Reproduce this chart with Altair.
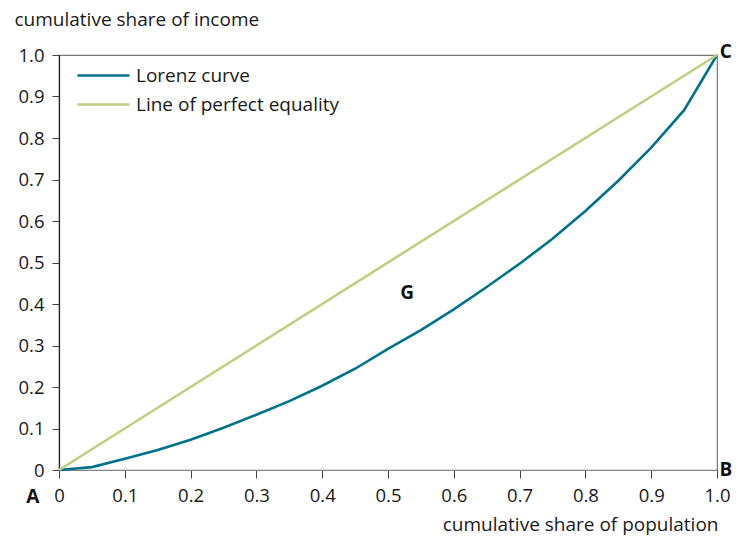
import altair as alt
import pandas as pd

# ---- data ----
pop_share = [0.0, 0.05, 0.10, 0.15, 0.20, 0.25, 0.30, 0.35, 0.40, 0.45, 0.50,
             0.55, 0.60, 0.65, 0.70, 0.75, 0.80, 0.85, 0.90, 0.95, 1.0]
income_share = [0.0, 0.007, 0.027, 0.048, 0.073, 0.102, 0.133, 0.166, 0.203, 0.244, 0.292,
                0.337, 0.387, 0.441, 0.497, 0.557, 0.624, 0.697, 0.777, 0.867, 1.0]
equality_x = [0.0, 1.0]
equality_y = [0.0, 1.0]
series_names = ["Lorenz curve", "Line of perfect equality"]
series_colors = ["#00728A", "#BDD180"]
tick_values = [0.0, 0.1, 0.2, 0.3, 0.4, 0.5, 0.6, 0.7, 0.8, 0.9, 1.0]

annot_text = ["A", "B", "C", "G"]
annot_x = [-0.04, 1.0135, 1.0135, 0.529]
annot_y = [-0.065, 0.0, 1.007, 0.427]

FONT = "Open Sans"
TXT = "#1a1a1a"

rows = []
for i, (x, y) in enumerate(zip(pop_share, income_share)):
    rows.append({"x": x, "y": y, "series": series_names[0], "order": i})
for i, (x, y) in enumerate(zip(equality_x, equality_y)):
    rows.append({"x": x, "y": y, "series": series_names[1], "order": i})
df = pd.DataFrame(rows)
annot = pd.DataFrame({"x": annot_x, "y": annot_y, "t": annot_text})

label_expr = "datum.value == 0 ? '0' : format(datum.value, '.1f')"

x_enc = alt.X("x:Q", scale=alt.Scale(domain=[0, 1], nice=False, zero=False),
              axis=alt.Axis(values=tick_values, labelExpr=label_expr, grid=False,
                            title="cumulative share of population",
                            titleX=659, titleY=54, titleAlign="right",
                            titleBaseline="middle", titleAnchor="end",
                            titleFontWeight="normal", titleFontSize=19, titleFont=FONT,
                            titleColor=TXT,
                            labelFont=FONT, labelFontSize=18.5, labelColor=TXT,
                            labelPadding=8, tickSize=8, tickColor="#444",
                            domainColor="#888", domainWidth=1.2, labelFlush=False))
y_enc = alt.Y("y:Q", scale=alt.Scale(domain=[0, 1], nice=False, zero=False),
              axis=alt.Axis(values=tick_values, labelExpr=label_expr, grid=False,
                            title="cumulative share of income",
                            titleAngle=0, titleX=-45, titleY=-36, titleAlign="left",
                            titleBaseline="middle",
                            titleFontWeight="normal", titleFontSize=19, titleFont=FONT,
                            titleColor=TXT,
                            labelFont=FONT, labelFontSize=18.5, labelColor=TXT,
                            labelPadding=8, tickSize=7, tickColor="#444",
                            domainColor="#222", domainWidth=1.2, labelFlush=False))

lines = alt.Chart(df).mark_line(strokeWidth=2.6).encode(
    x=x_enc,
    y=y_enc,
    order="order:Q",
    color=alt.Color("series:N",
                    scale=alt.Scale(domain=series_names, range=series_colors),
                    legend=alt.Legend(title=None, orient="none", legendX=30, legendY=6,
                                      symbolType="M-2,0H2", symbolSize=676,
                                      symbolStrokeWidth=2.6, labelFont=FONT,
                                      labelFontSize=19, labelColor=TXT, labelLimit=400,
                                      labelOffset=18, padding=0, rowPadding=4)),
)

texts = alt.Chart(annot).mark_text(font=FONT, fontSize=19, fontWeight="bold",
                                   color="#111", align="center", baseline="middle").encode(
    x="x:Q", y="y:Q", text="t:N"
)

chart = alt.layer(lines, texts).properties(
    width=658, height=415,
    autosize=alt.AutoSizeParams(type="none"),
    padding={"left": 51, "top": 47, "right": 15, "bottom": 66},
).configure_view(stroke="#777", strokeWidth=1.2)

chart.save("out.html", embed_options={"renderer": "svg", "actions": False})
